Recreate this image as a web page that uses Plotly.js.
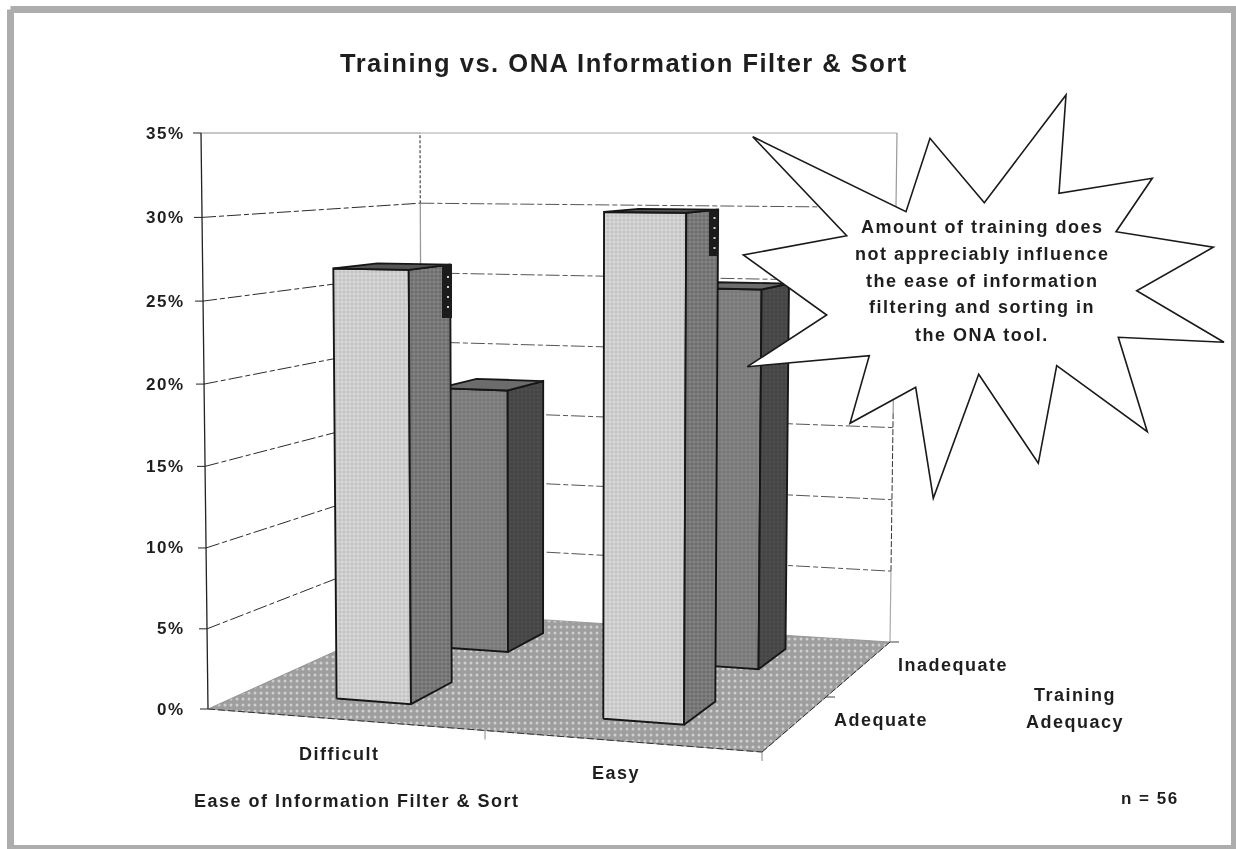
<!DOCTYPE html>
<html>
<head>
<meta charset="utf-8">
<script src="https://cdn.plot.ly/plotly-3.0.1.min.js"></script>
<style>
html,body{margin:0;padding:0;background:#fff;}
#chart{width:1236px;height:849px;filter:blur(0.4px);}
.annotation-text{letter-spacing:1.5px;}
</style>
</head>
<body>
<div id="chart"></div>
<script>
// ---- data ----
const easeCategories = ['Difficult', 'Easy'];
const trainingSeries = ['Adequate', 'Inadequate'];
const adequateValues = [26.8, 30.4];
const inadequateValues = [17.9, 25.0];
const yTickValues = [0, 5, 10, 15, 20, 25, 30, 35];
const yTickLabels = ['0%', '5%', '10%', '15%', '20%', '25%', '30%', '35%'];
const calloutLines = ['Amount of training does', 'not appreciably influence', 'the ease of information', 'filtering and sorting in', 'the ONA tool.'];

// ---- 3-D box projection onto the page: (u across, v in depth, value up) ----
const floorCorners = {fl: [208, 709], fr: [762, 752], br: [890, 642], bl: [422, 612]};
const roofCorners = {fl: [201, 133], fr: [766, 133], br: [897, 133], bl: [420, 133]};
const zMax = 35;
const lerp = (a, b, t) => a + (b - a) * t;
function plane(c, u, v, i) { return lerp(lerp(c.fl[i], c.fr[i], u), lerp(c.bl[i], c.br[i], u), v); }
function project(u, v, val) {
  let w = val / zMax; w = w - 0.03 * w * (1 - w);
  return [lerp(plane(floorCorners, u, v, 0), plane(roofCorners, u, v, 0), w),
          lerp(plane(floorCorners, u, v, 1), plane(roofCorners, u, v, 1), w)];
}
const catSlots = [[0.168, 0.306], [0.663, 0.813]];
const depthSlots = [[0.178, 0.395], [0.695, 0.882]];

const traces = [];
function poly(pts, style) {
  const xs = pts.map(p => p[0]).concat([pts[0][0]]);
  const ys = pts.map(p => p[1]).concat([pts[0][1]]);
  const t = {x: xs, y: ys, mode: 'lines', hoverinfo: 'skip', showlegend: false,
    line: {color: style.line || '#161616', width: style.width === undefined ? 1.9 : style.width}};
  if (style.fill) { t.fill = 'toself'; t.fillcolor = style.fill; }
  if (style.pattern) { t.fillpattern = style.pattern; }
  traces.push(t);
}
function seg(a, b, color, width, dash) {
  traces.push({x: [a[0], b[0]], y: [a[1], b[1]], mode: 'lines', hoverinfo: 'skip', showlegend: false,
    line: {color: color, width: width, dash: dash || 'solid'}});
}

// frame
poly([[10.5, 9.5], [1234.5, 9.5], [1234.5, 848.5], [10.5, 848.5]], {line: '#adadad', width: 7});

// walls and gridlines
const dashA = '14px,3px,5px,3px';
yTickValues.forEach(val => {
  const isTop = val === zMax;
  if (val > 0) {
    seg(project(0, 0, val), project(0, 1, val), isTop ? '#8e8e8e' : '#2b2b2b', 1, isTop ? 'solid' : dashA);
    seg(project(0, 1, val), project(1, 1, val), isTop ? '#a8a8a8' : '#555555', 1, isTop ? 'solid' : dashA);
  }
  const p = project(0, 0, val);
  seg([p[0] - 8, p[1]], p, '#222222', 1);
});
seg(project(0, 0, 0), project(0, 0, zMax), '#222222', 1.3);
seg(project(0, 1, 0), project(0, 1, 30), '#9a9a9a', 1.3);
seg(project(0, 1, 30), project(0, 1, zMax), '#444444', 1.2, '3px,2px');
seg(project(1, 1, 0), project(1, 1, 5), '#aaaaaa', 1.2);
seg(project(1, 1, 5), project(1, 1, 16), '#333333', 1, '6px,2px');
seg(project(1, 1, 16), project(1, 1, zMax), '#999999', 1.2);

// floor
poly([project(0, 0, 0), project(1, 0, 0), project(1, 1, 0), project(0, 1, 0)], {
  fill: '#a0a0a0', line: '#8a8a8a', width: 0.8,
  pattern: {shape: '.', size: 6, solidity: 0.2, bgcolor: '#9e9e9e', fgcolor: '#cfcfcf', fillmode: 'replace'}
});
seg(project(0, 0, 0), project(1, 0, 0), '#333333', 1, '7px,3px');
seg(project(1, 0, 0), project(1, 1, 0), '#333333', 1, '7px,2px');
// floor ticks
[0.5, 1].forEach(u => { const p = project(u, 0, 0); seg(p, [p[0], p[1] + 9], '#888888', 1); });
[0.5, 1].forEach(v => { const p = project(1, v, 0); seg(p, [p[0] + 9, p[1]], '#444444', 1); });

// bars, back row first
const rowStyles = [
  {front: {shape: '+', size: 4, solidity: 0.35, bgcolor: '#c2c2c2', fgcolor: '#e4e4e4', fillmode: 'replace'},
   side: {shape: '+', size: 4, solidity: 0.3, bgcolor: '#6c6c6c', fgcolor: '#939393', fillmode: 'replace'},
   top: '#555555', frontC: '#d0d0d0', sideC: '#7a7a7a'},
  {front: {shape: '+', size: 4, solidity: 0.3, bgcolor: '#767676', fgcolor: '#909090', fillmode: 'replace'},
   side: {shape: '+', size: 4, solidity: 0.2, bgcolor: '#444444', fgcolor: '#585858', fillmode: 'replace'},
   top: '#6c6c6c', frontC: '#808080', sideC: '#4a4a4a'}
];
const seriesValues = [adequateValues, inadequateValues];
[1, 0].forEach(row => {
  easeCategories.forEach((cat, c) => {
    const val = seriesValues[row][c];
    const [u0, u1] = catSlots[c];
    const [v0, v1] = depthSlots[row];
    const st = rowStyles[row];
    poly([project(u0, v0, 0), project(u1, v0, 0), project(u1, v0, val), project(u0, v0, val)],
      {fill: st.frontC, pattern: st.front});
    poly([project(u1, v0, 0), project(u1, v1, 0), project(u1, v1, val), project(u1, v0, val)],
      {fill: st.sideC, pattern: st.side});
    poly([project(u0, v0, val), project(u1, v0, val), project(u1, v1, val), project(u0, v1, val)],
      {fill: st.top});
  });
});

// ---- callout (annotation shape, not data) ----
const burst = [[752.7,136.7],[906,211.7],[930,138.3],[984.3,202.7],[1066,95],[1059,193.3],[1152.3,178.3],[1116,231.7],
  [1213.3,247.3],[1136.7,290.7],[1224,342.3],[1118.3,337.3],[1147.3,431.7],[1056.7,365.7],[1038.3,463.3],[978.7,374.3],
  [933.3,498.3],[915.7,387.3],[850,423.3],[869.3,355.7],[747.3,366.7],[826.7,315],[743.3,255],[846.7,235.7]];
const burstPath = 'M' + burst.map(p => p.join(',')).join(' L') + ' Z';

const shapes = [
  {type: 'rect', xref: 'x', yref: 'y', x0: 442, x1: 452, y0: 264, y1: 318, fillcolor: '#1c1c1c', line: {width: 0}, layer: 'above'},
  {type: 'line', xref: 'x', yref: 'y', x0: 448, x1: 448, y0: 276, y1: 316, line: {color: '#cfcfcf', width: 2, dash: '2px,8px'}, layer: 'above'},
  {type: 'rect', xref: 'x', yref: 'y', x0: 709, x1: 718, y0: 211, y1: 256, fillcolor: '#1c1c1c', line: {width: 0}, layer: 'above'},
  {type: 'line', xref: 'x', yref: 'y', x0: 714.5, x1: 714.5, y0: 217, y1: 255, line: {color: '#cfcfcf', width: 2, dash: '2px,8px'}, layer: 'above'},
  {type: 'path', xref: 'x', yref: 'y', path: burstPath, fillcolor: '#ffffff', line: {color: '#1a1a1a', width: 1.6}, layer: 'above'}
];

// ---- text ----
const FONT = 'Liberation Sans, Arial, sans-serif';
const INK = '#1e1e1e';
function note(text, x, y, size, anchor) {
  return {text: '<b>' + text + '</b>', x: x, y: y, xref: 'x', yref: 'y', showarrow: false,
    xanchor: anchor || 'center', yanchor: 'middle', font: {family: FONT, size: size, color: INK}, align: 'center'};
}
const annotations = [];
yTickValues.forEach((v, i) => annotations.push(note(yTickLabels[i], 187, project(0, 0, v)[1], 17, 'right')));
annotations.push(note(easeCategories[0], 339, 754, 18));
annotations.push(note(easeCategories[1], 616, 773, 18));
annotations.push(note('Ease of Information Filter &amp; Sort', 357, 801, 18));
annotations.push(note(trainingSeries[1], 953, 665, 18));
annotations.push(note(trainingSeries[0], 881, 720, 18));
annotations.push(note('Training', 1075, 695, 18));
annotations.push(note('Adequacy', 1075, 722, 18));
annotations.push(note('n = 56', 1150, 798, 17));
[227, 254, 281, 307, 335].forEach((y, i) => annotations.push(note(calloutLines[i], 982, y, 18)));
annotations.push(note('Training vs. ONA Information Filter &amp; Sort', 624, 63, 25.5));

Plotly.newPlot('chart', traces, {
  width: 1236, height: 849,
  margin: {l: 0, r: 0, t: 0, b: 0},
  paper_bgcolor: '#ffffff', plot_bgcolor: '#ffffff',
  xaxis: {range: [0, 1236], visible: false, fixedrange: true},
  yaxis: {range: [849, 0], visible: false, fixedrange: true},
  showlegend: false, shapes: shapes, annotations: annotations,
  font: {family: FONT}
}, {displayModeBar: false, staticPlot: true});
</script>
</body>
</html>
